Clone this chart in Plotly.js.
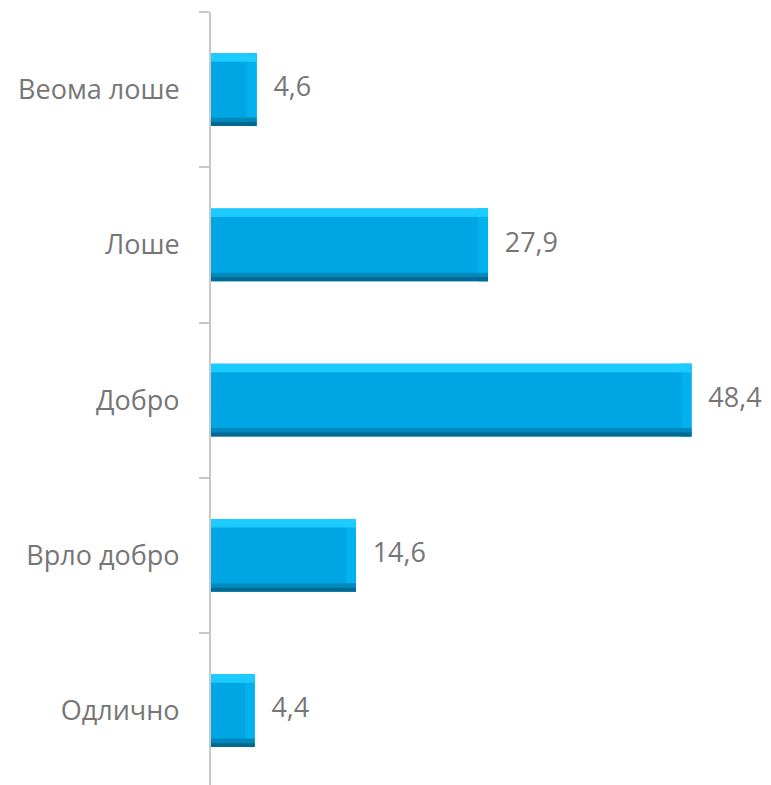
<!DOCTYPE html>
<html>
<head>
<meta charset="utf-8">
<script src="https://cdn.plot.ly/plotly-3.0.1.min.js"></script>
<style>html,body{margin:0;padding:0;background:#fff;}#chart{width:771px;height:785px;}</style>
</head>
<body>
<div id="chart"></div>
<script>
var categories = ["Веома лоше", "Лоше", "Добро", "Врло добро", "Одлично"];
var values = [4.6, 27.9, 48.4, 14.6, 4.4];

var BAR_W = 0.47;
var EDGE = 0.055;
var RIGHT_EDGE = 1.0;
var textColor = "#767676";
var fontFam = "'Open Sans', 'Noto Sans', sans-serif";

function strip(offset, width, color, xs, base) {
  var t = {
    type: "bar", orientation: "h", y: categories, x: xs,
    width: width, offset: offset,
    marker: {color: color, line: {width: 0}},
    hoverinfo: "skip", showlegend: false
  };
  if (base) t.base = base;
  return t;
}

var main = {
  type: "bar", orientation: "h", y: categories, x: values,
  width: BAR_W, offset: -BAR_W / 2,
  marker: {color: "#00a6e4", line: {width: 0}},
  showlegend: false, hoverinfo: "skip"
};

var rightEdge = strip(-BAR_W / 2, BAR_W, "#02b2ee",
  values.map(function (v) { return RIGHT_EDGE; }),
  values.map(function (v) { return v - RIGHT_EDGE; }));
var topStrip = strip(-BAR_W / 2, EDGE, "#1ccbff", values);
var bottomStrip1 = strip(BAR_W / 2 - EDGE, EDGE * 0.5, "#0089bd", values);
var bottomStrip2 = strip(BAR_W / 2 - EDGE * 0.5, EDGE * 0.5, "#006a93", values);

var labels = {
  type: "scatter", mode: "text", y: categories, x: values,
  text: values.map(function (v) { return "\u00a0\u00a0\u200a" + v.toFixed(1).replace(".", ","); }),
  textposition: "middle right",
  textfont: {family: fontFam, size: 27, color: textColor},
  cliponaxis: false, hoverinfo: "skip", showlegend: false
};

var layout = {
  width: 771, height: 785,
  margin: {l: 211, r: 0, t: 12, b: 0, pad: 0},
  paper_bgcolor: "#ffffff", plot_bgcolor: "#ffffff",
  barmode: "overlay",
  separators: ", ",
  font: {family: fontFam, color: textColor},
  xaxis: {
    range: [0, 56.4], showgrid: false, zeroline: false,
    showticklabels: false, ticks: "", showline: false, fixedrange: true
  },
  yaxis: {
    type: "category", categoryorder: "array", categoryarray: categories,
    range: [4.479, -0.5],
    showgrid: false, zeroline: false,
    showline: true, linecolor: "#c8c8c8", linewidth: 2,
    ticks: "outside", tickson: "boundaries", ticklen: 10, tickwidth: 2, tickcolor: "#c8c8c8",
    ticklabelstandoff: 24,
    tickfont: {family: fontFam, size: 27, color: textColor},
    fixedrange: true
  }
};

Plotly.newPlot("chart", [main, rightEdge, topStrip, bottomStrip1, bottomStrip2, labels], layout, {displayModeBar: false, staticPlot: true});
</script>
</body>
</html>
